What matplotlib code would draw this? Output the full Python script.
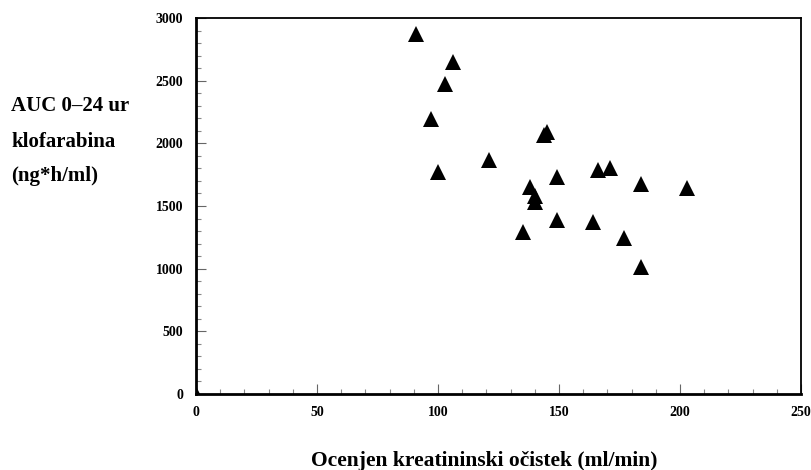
import matplotlib
matplotlib.use('Agg')
import matplotlib.pyplot as plt
from matplotlib.ticker import MultipleLocator

# estimated creatinine clearance (ml/min) and AUC 0-24 h (ng*h/ml)
clearance = [0, 91, 106, 103, 97, 145, 144, 121, 100, 166, 171, 149,
             184, 203, 138, 140, 140, 149, 164, 135, 177, 184]
auc = [0, 2875, 2650, 2475, 2195, 2090, 2065, 1870, 1775, 1785, 1800, 1735,
       1675, 1645, 1650, 1580, 1530, 1385, 1370, 1290, 1245, 1010]

x_ticks = [0, 50, 100, 150, 200, 250]
y_ticks = [0, 500, 1000, 1500, 2000, 2500, 3000]

plt.rcParams['font.family'] = ['Liberation Serif', 'DejaVu Serif']
plt.rcParams['font.weight'] = 'bold'

fig = plt.figure(figsize=(8.12, 4.70), dpi=100)
ax = fig.add_axes([196 / 812, 1 - 394 / 470, (801 - 196) / 812, (394 - 18) / 470])

ax.plot(clearance, auc, linestyle='none', marker='^', markersize=12,
        color='black', markeredgewidth=0, clip_on=True)

ax.set_xlim(0, 250)
ax.set_ylim(0, 3000)
ax.set_xticks(x_ticks)
ax.set_yticks(y_ticks)
ax.xaxis.set_minor_locator(MultipleLocator(10))
ax.yaxis.set_minor_locator(MultipleLocator(100))
ax.tick_params(which='major', direction='in', length=7, width=0.8,
               color='#666666', labelsize=10, pad=9)
ax.tick_params(which='minor', direction='in', length=3.5, width=0.8,
               color='#888888')
for lab in ax.get_xticklabels() + ax.get_yticklabels():
    lab.set_fontweight('bold')

for side in ['top', 'right']:
    ax.spines[side].set_linewidth(1.3)
for side in ['left', 'bottom']:
    ax.spines[side].set_linewidth(2)

# y axis title as three lines on the left
fig.text(11 / 812, 1 - 106 / 470, 'AUC 0–24 ur', fontsize=15,
         fontweight='bold', va='center', ha='left')
fig.text(11 / 812, 1 - 142 / 470, 'klofarabina', fontsize=15,
         fontweight='bold', va='center', ha='left')
fig.text(11 / 812, 1 - 176 / 470, '(ng*h/ml)', fontsize=15,
         fontweight='bold', va='center', ha='left')
fig.text(484 / 812, 1 - 461 / 470, 'Ocenjen kreatininski očistek (ml/min)',
         fontsize=15.5, fontweight='bold', va='center', ha='center')

fig.savefig('out.png', dpi=100)
